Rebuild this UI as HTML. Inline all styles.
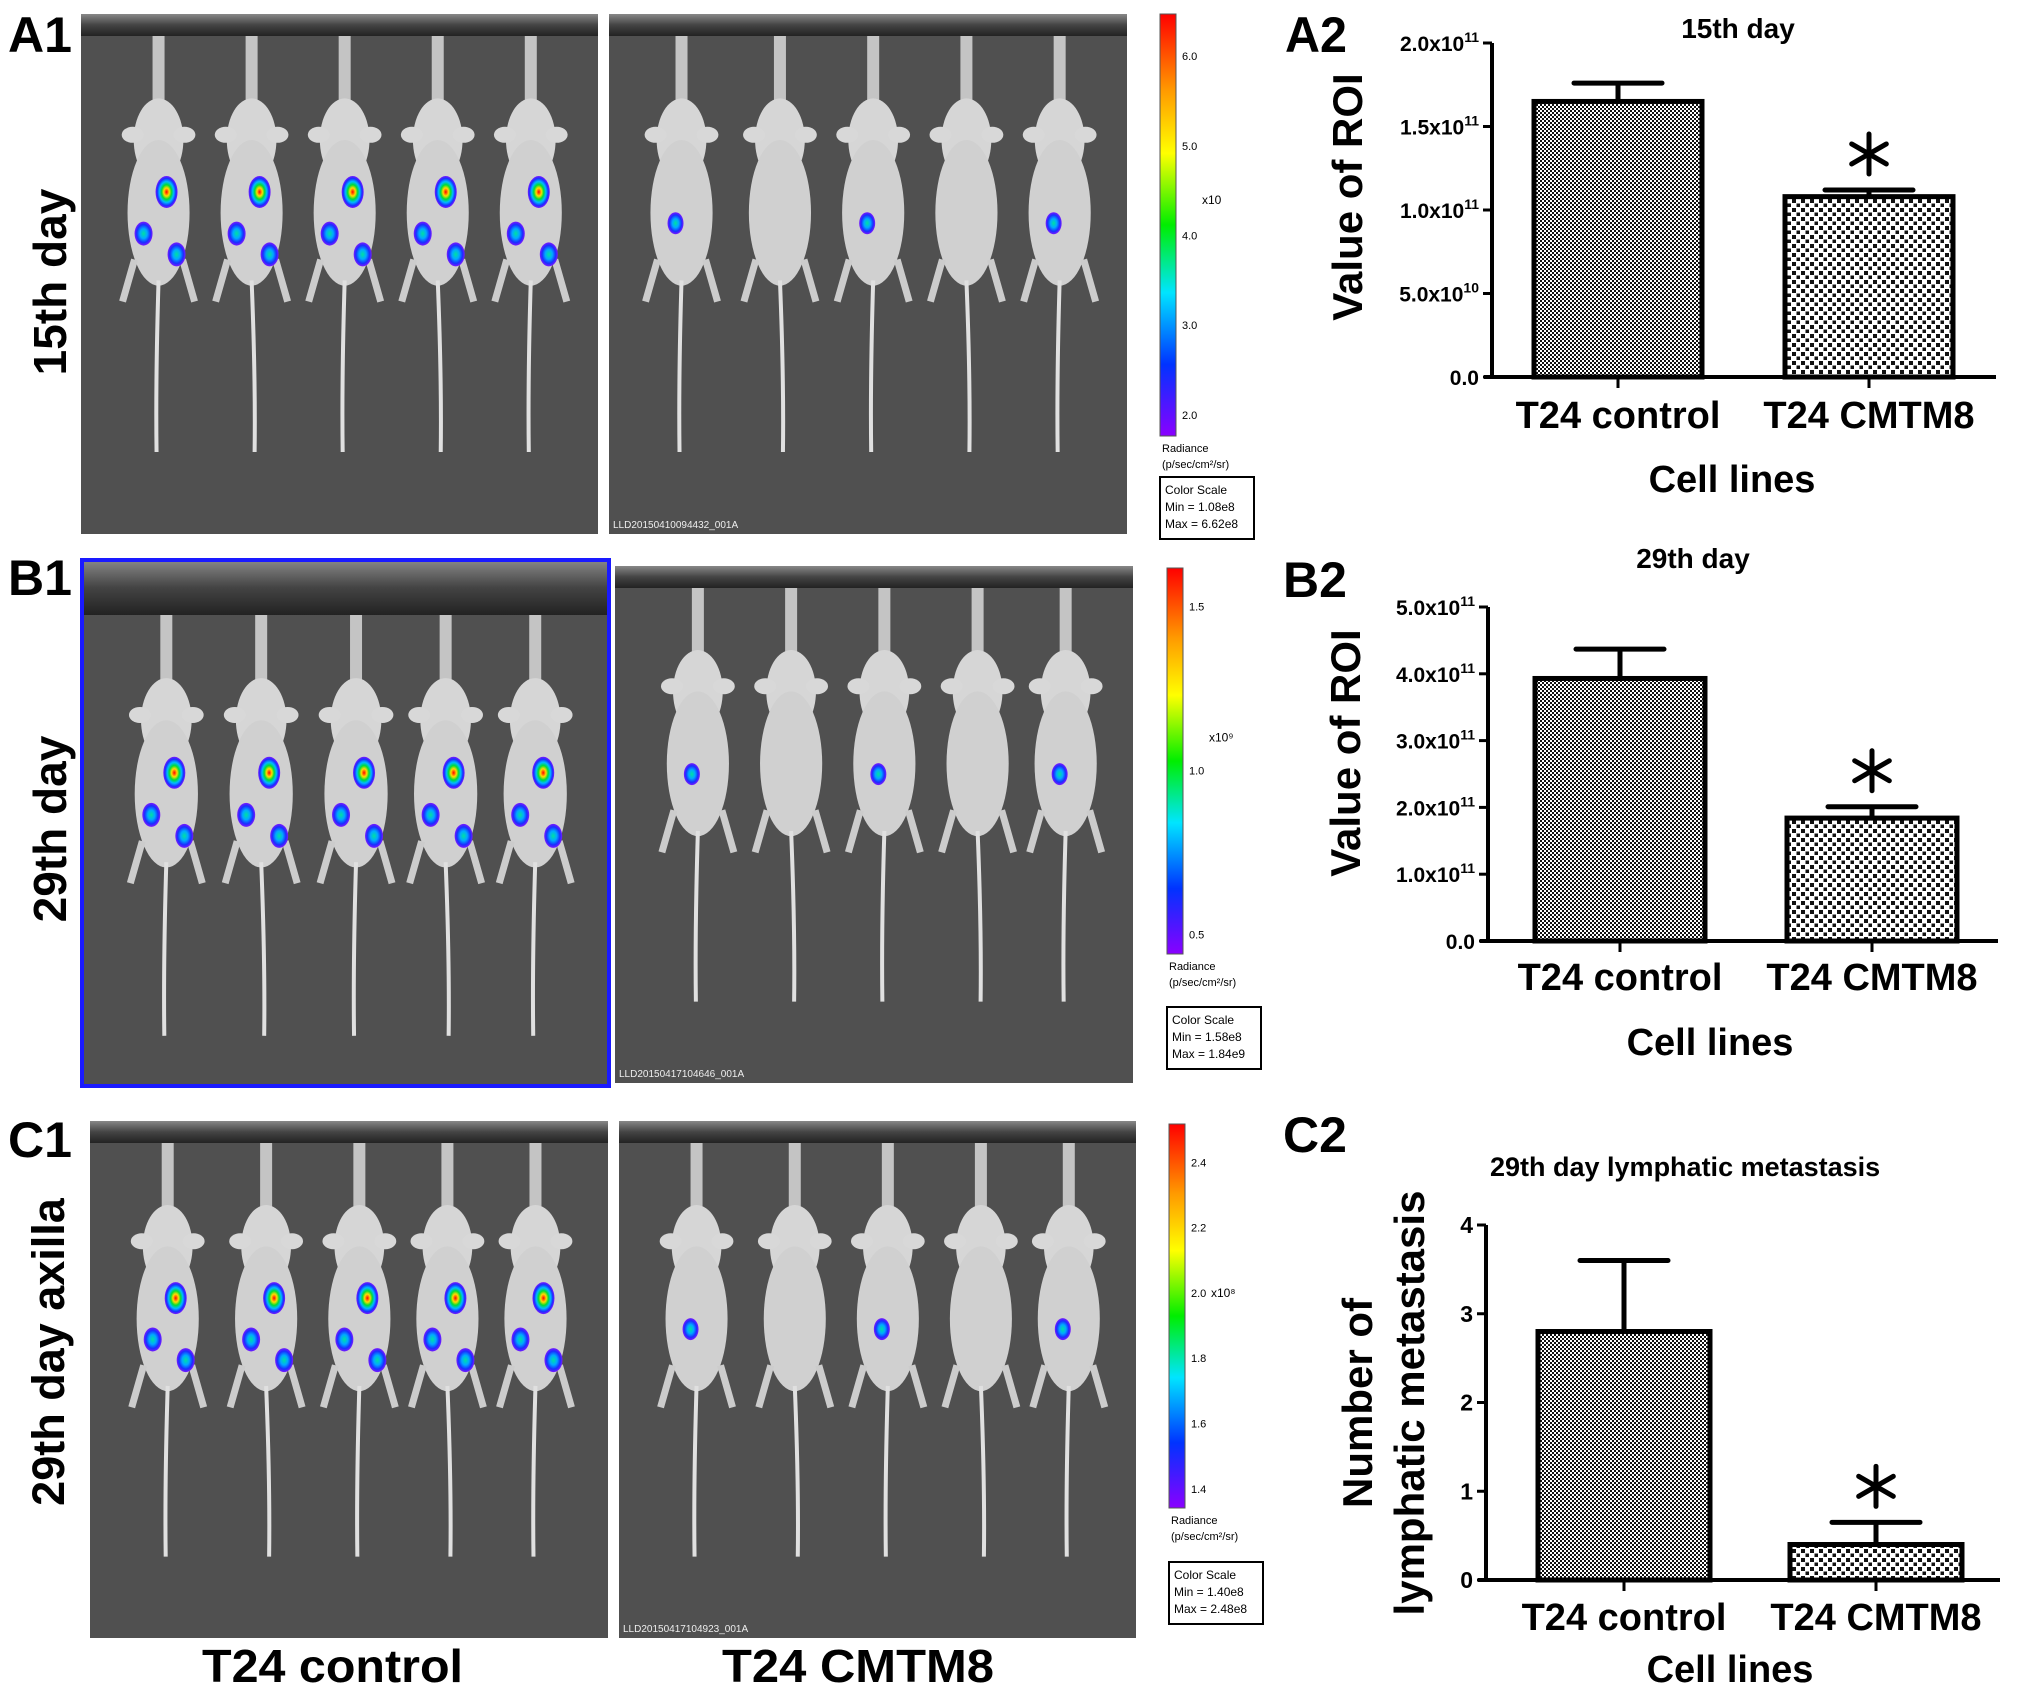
<!DOCTYPE html>
<html><head><meta charset="utf-8">
<style>
html,body{margin:0;padding:0;background:#fff;}
svg{display:block;font-family:"Liberation Sans",Arial,sans-serif;}
</style></head>
<body>
<svg id="fig" width="2031" height="1698" viewBox="0 0 2031 1698" xmlns="http://www.w3.org/2000/svg">
<defs>
  <pattern id="patFine" width="4" height="4" patternUnits="userSpaceOnUse">
    <rect width="4" height="4" fill="#fff"/><rect width="2" height="2" fill="#111"/><rect x="2" y="2" width="2" height="2" fill="#111"/>
  </pattern>
  <pattern id="patCoarse" width="9" height="9" patternUnits="userSpaceOnUse">
    <rect width="9" height="9" fill="#fff"/><rect x="1" y="1" width="4" height="4" fill="#111"/><rect x="5.5" y="5.5" width="3.5" height="3.5" fill="#111"/>
  </pattern>
  <linearGradient id="cbar" x1="0" y1="0" x2="0" y2="1">
    <stop offset="0" stop-color="#ff0000"/><stop offset="0.18" stop-color="#ff9900"/><stop offset="0.33" stop-color="#ffff00"/>
    <stop offset="0.5" stop-color="#00ee00"/><stop offset="0.66" stop-color="#00e5ff"/><stop offset="0.83" stop-color="#0033ff"/><stop offset="1" stop-color="#8a00ff"/>
  </linearGradient>
  <radialGradient id="blob">
    <stop offset="0" stop-color="#ff0000"/><stop offset="0.25" stop-color="#ffdd00"/><stop offset="0.45" stop-color="#00dd33"/>
    <stop offset="0.65" stop-color="#00bbff"/><stop offset="0.85" stop-color="#1a2dff"/><stop offset="1" stop-color="#7a1aff"/>
  </radialGradient>
  <radialGradient id="blobBlue">
    <stop offset="0" stop-color="#00e0a0"/><stop offset="0.4" stop-color="#00aaff"/><stop offset="0.75" stop-color="#1a2dff"/><stop offset="1" stop-color="#7a1aff"/>
  </radialGradient>
  <linearGradient id="topbar" x1="0" y1="0" x2="0" y2="1">
    <stop offset="0" stop-color="#888"/><stop offset="0.5" stop-color="#444"/><stop offset="1" stop-color="#222"/>
  </linearGradient>
</defs>

<text x="8" y="52" font-size="50" font-weight="bold" textLength="64" lengthAdjust="spacingAndGlyphs">A1</text>
<text x="8" y="595" font-size="50" font-weight="bold" textLength="64" lengthAdjust="spacingAndGlyphs">B1</text>
<text x="8" y="1157" font-size="50" font-weight="bold" textLength="64" lengthAdjust="spacingAndGlyphs">C1</text>
<text x="1285" y="52" font-size="50" font-weight="bold" textLength="62" lengthAdjust="spacingAndGlyphs">A2</text>
<text x="1283" y="597" font-size="50" font-weight="bold">B2</text>
<text x="1283" y="1152" font-size="50" font-weight="bold">C2</text>

<text transform="translate(66,282) rotate(-90)" text-anchor="middle" font-size="46" font-weight="bold">15th day</text>
<text transform="translate(66,829) rotate(-90)" text-anchor="middle" font-size="46" font-weight="bold">29th day</text>
<text transform="translate(64,1352) rotate(-90)" text-anchor="middle" font-size="45" font-weight="bold">29th day axilla</text>

<text x="202" y="1682" font-size="46" font-weight="bold" textLength="261" lengthAdjust="spacingAndGlyphs">T24 control</text>
<text x="722" y="1682" font-size="46" font-weight="bold" textLength="272" lengthAdjust="spacingAndGlyphs">T24 CMTM8</text>

<g id="imaging"></g>
<g id="charts"></g>
</svg>

<script>
const categories = ["T24 control", "T24 CMTM8"];
const a2Values = [1.65e11, 1.08e11];
const a2Errors = [0.11e11, 0.04e11];
const a2Ticks = [0, 0.5e11, 1.0e11, 1.5e11, 2.0e11];
const a2TickLabels = ["0.0", "5.0x10|10", "1.0x10|11", "1.5x10|11", "2.0x10|11"];
const b2Values = [3.93e11, 1.84e11];
const b2Errors = [0.44e11, 0.17e11];
const b2Ticks = [0, 1e11, 2e11, 3e11, 4e11, 5e11];
const b2TickLabels = ["0.0", "1.0x10|11", "2.0x10|11", "3.0x10|11", "4.0x10|11", "5.0x10|11"];
const c2Values = [2.8, 0.4];
const c2Errors = [0.8, 0.25];
const c2Ticks = [0, 1, 2, 3, 4];
const c2TickLabels = ["0", "1", "2", "3", "4"];
const significant = [false, true];

const NS = "http://www.w3.org/2000/svg";
function mk(tag, attrs, parent) {
  const e = document.createElementNS(NS, tag);
  for (const k in attrs) e.setAttribute(k, attrs[k]);
  if (parent) parent.appendChild(e);
  return e;
}

function drawChart(cfg, values, errors, ticks, tickLabels) {
  const root = document.getElementById("charts");
  const g = mk("g", {}, root);
  
  
  const ymax = ticks[ticks.length - 1];
  const yScale = v => cfg.y0 - (v / ymax) * (cfg.y0 - cfg.yTop);
  const xCenter = i => cfg.xc[0] + i * (cfg.xc[1] - cfg.xc[0]);

  values.forEach((v, i) => {
    const cx = xCenter(i);
    const yv = yScale(v);
    const bar = mk("rect", {x: cx - cfg.bw / 2, y: yv, width: cfg.bw, height: cfg.y0 - yv,
      fill: i === 0 ? "url(#patFine)" : "url(#patCoarse)", stroke: "#000", "stroke-width": 5}, g);
    
    
    const ye = yScale(v + errors[i]);
    const eb = mk("path", {d: `M${cx},${yv} V${ye} M${cx - cfg.cap},${ye} H${cx + cfg.cap}`,
      stroke: "#000", "stroke-width": 5, fill: "none", "stroke-linecap": "round"}, g);
    
    
    if (significant[i]) {
      const ay = ye - 36;
      const st = mk("g", {}, g);
      
      
      [0, 60, 120].forEach(a => {
        mk("line", {x1: cx, y1: ay - 20, x2: cx, y2: ay + 20, stroke: "#000", "stroke-width": 5,
          "stroke-linecap": "round", transform: `rotate(${a} ${cx} ${ay})`}, st);
      });
    }
    const ct = mk("line", {x1: cx, y1: cfg.y0, x2: cx, y2: cfg.y0 + 11, stroke: "#000", "stroke-width": 3}, g);
    
    
    const cl = mk("text", {x: cx, y: cfg.catY, "text-anchor": "middle", "font-size": 38, "font-weight": "bold"}, g);
    cl.textContent = categories[i];
    
    
  });

  const ax = mk("path", {d: `M${cfg.x0},${cfg.yTop} V${cfg.y0} M${cfg.x0 - 8},${cfg.y0} H${cfg.xEnd}`,
    stroke: "#000", "stroke-width": 4, fill: "none"}, g);
  
  

  ticks.forEach((t, k) => {
    const y = yScale(t);
    const tk = mk("line", {x1: cfg.x0 - 9, y1: y, x2: cfg.x0, y2: y, stroke: "#000", "stroke-width": 3}, g);
    
    
    const parts = tickLabels[k].split("|");
    const tl = mk("text", {x: cfg.x0 - 13, y: y + 8, "text-anchor": "end", "font-size": cfg.tickFont, "font-weight": "bold"}, g);
    
    
    const s1 = mk("tspan", {}, tl); s1.textContent = parts[0];
    if (parts[1]) {
      const s2 = mk("tspan", {dy: -9, "font-size": 14}, tl); s2.textContent = parts[1];
    }
  });
}

drawChart({name: "chart-a2", x0: 1492, xEnd: 1996, y0: 377, yTop: 43, xc: [1618, 1869], bw: 168, cap: 44, catY: 428, tickFont: 21},
  a2Values, a2Errors, a2Ticks, a2TickLabels);
drawChart({name: "chart-b2", x0: 1488, xEnd: 1998, y0: 941, yTop: 607, xc: [1620, 1872], bw: 170, cap: 44, catY: 990, tickFont: 21},
  b2Values, b2Errors, b2Ticks, b2TickLabels);
drawChart({name: "chart-c2", x0: 1486, xEnd: 2000, y0: 1580, yTop: 1225, xc: [1624, 1876], bw: 172, cap: 44, catY: 1630, tickFont: 23},
  c2Values, c2Errors, c2Ticks, c2TickLabels);

(function(){
  const root = document.getElementById("charts");
  const items = [
    ["chart-title-a2", 1738, 38, "15th day", 28, "middle"],
    ["chart-title-b2", 1693, 568, "29th day", 28, "middle"],
    ["chart-title-c2", 1490, 1176, "29th day lymphatic metastasis", 27, "start"],
    ["x-axis-title-a2", 1732, 492, "Cell lines", 38, "middle"],
    ["x-axis-title-b2", 1710, 1055, "Cell lines", 38, "middle"],
    ["x-axis-title-c2", 1730, 1682, "Cell lines", 38, "middle"]
  ];
  items.forEach(it => {
    const t = mk("text", {x: it[1], y: it[2], "text-anchor": it[5], "font-size": it[4], "font-weight": "bold"}, root);
    t.textContent = it[3];
    
    
  });
  const yt = [
    ["y-axis-title-a2", 1362, 197, "Value of ROI"],
    ["y-axis-title-b2", 1360, 753, "Value of ROI"],
    ["y-axis-title-c2-line1", 1372, 1403, "Number of"],
    ["y-axis-title-c2-line2", 1424, 1403, "lymphatic metastasis"]
  ];
  yt.forEach(it => {
    const t = mk("text", {transform: `translate(${it[1]},${it[2]}) rotate(-90)`, "text-anchor": "middle", "font-size": 42, "font-weight": "bold"}, root);
    t.textContent = it[3];
    
    
  });
})();

const panels = [
  {name:"a1-control", x:81, y:14, w:517, h:520, bar:22, mice:[0.15,0.33,0.51,0.69,0.87], blobs:true},
  {name:"a1-cmtm8", x:609, y:14, w:518, h:520, bar:22, mice:[0.14,0.33,0.51,0.69,0.87], blobs:false, id:"LLD20150410094432_001A"},
  {name:"b1-control", x:82, y:560, w:527, h:526, bar:55, mice:[0.16,0.34,0.52,0.69,0.86], blobs:true, border:true},
  {name:"b1-cmtm8", x:615, y:566, w:518, h:517, bar:22, mice:[0.16,0.34,0.52,0.7,0.87], blobs:false, id:"LLD20150417104646_001A"},
  {name:"c1-control", x:90, y:1121, w:518, h:517, bar:22, mice:[0.15,0.34,0.52,0.69,0.86], blobs:true},
  {name:"c1-cmtm8", x:619, y:1121, w:517, h:517, bar:22, mice:[0.15,0.34,0.52,0.7,0.87], blobs:false, id:"LLD20150417104923_001A"}
];
const img = document.getElementById("imaging");
panels.forEach((p) => {
  const g = mk("g", {}, img);
  
  
  mk("rect", {x: p.x, y: p.y, width: p.w, height: p.h, fill: "#505050"}, g);
  mk("rect", {x: p.x, y: p.y, width: p.w, height: p.bar, fill: "url(#topbar)"}, g);
  p.mice.forEach((f, mi) => {
    const cx = p.x + f * p.w;
    const top = p.y + p.bar;
    const H = p.h;
    mk("rect", {x: cx - 6, y: top, width: 12, height: H * 0.13, fill: "#c4c4c4"}, g);
    mk("ellipse", {cx: cx, cy: top + H * 0.2, rx: p.w * 0.048, ry: H * 0.08, fill: "#d6d6d6"}, g);
    mk("ellipse", {cx: cx, cy: top + H * 0.34, rx: p.w * 0.06, ry: H * 0.14, fill: "#d0d0d0"}, g);
    mk("ellipse", {cx: cx - p.w * 0.05, cy: top + H * 0.19, rx: 11, ry: 8, fill: "#d8d8d8"}, g);
    mk("ellipse", {cx: cx + p.w * 0.05, cy: top + H * 0.19, rx: 11, ry: 8, fill: "#d8d8d8"}, g);
    mk("path", {d: `M${cx - 24},${top + H * 0.43} l-12,42 M${cx + 24},${top + H * 0.43} l12,42`, stroke: "#ccc", "stroke-width": 7, fill: "none"}, g);
    mk("path", {d: `M${cx},${top + H * 0.47} Q${cx + (mi % 2 ? 4 : -3)},${top + H * 0.66} ${cx + (mi % 2 ? 3 : -2)},${top + H * 0.8}`, stroke: "#e0e0e0", "stroke-width": 4, fill: "none"}, g);
    if (p.blobs) {
      mk("ellipse", {cx: cx + 8, cy: top + H * 0.3, rx: 11, ry: 16, fill: "url(#blob)"}, g);
      mk("ellipse", {cx: cx - 15, cy: top + H * 0.38, rx: 9, ry: 12, fill: "url(#blobBlue)"}, g);
      mk("ellipse", {cx: cx + 18, cy: top + H * 0.42, rx: 9, ry: 12, fill: "url(#blobBlue)"}, g);
    } else if (mi % 2 === 0) {
      mk("ellipse", {cx: cx - 6, cy: top + H * 0.36, rx: 8, ry: 11, fill: "url(#blobBlue)"}, g);
    }
  });
  if (p.border) mk("rect", {x: p.x, y: p.y, width: p.w, height: p.h, fill: "none", stroke: "#1a1aff", "stroke-width": 4}, g);
  if (p.id) {
    const t = mk("text", {x: p.x + 4, y: p.y + p.h - 6, "font-size": 10, fill: "#eee"}, g);
    t.textContent = p.id;
    
    
  }
});

const scales = [
  {name:"a1", x:1160, y:14, h:422, ticks:["6.0","5.0","4.0","3.0","2.0"], mult:"x10", boxY:477, min:"1.08e8", max:"6.62e8"},
  {name:"b1", x:1167, y:568, h:386, ticks:["1.5","1.0","0.5"], mult:"x10⁹", boxY:1007, min:"1.58e8", max:"1.84e9"},
  {name:"c1", x:1169, y:1124, h:384, ticks:["2.4","2.2","2.0","1.8","1.6","1.4"], mult:"x10⁸", boxY:1562, min:"1.40e8", max:"2.48e8"}
];
scales.forEach(s => {
  const g = mk("g", {}, img);
  
  
  mk("rect", {x: s.x, y: s.y, width: 16, height: s.h, fill: "url(#cbar)", stroke: "#555", "stroke-width": 1}, g);
  s.ticks.forEach((tl, k) => {
    const y = s.y + s.h * (0.1 + 0.85 * k / Math.max(1, s.ticks.length - 1));
    const t = mk("text", {x: s.x + 22, y: y + 4, "font-size": 11}, g);
    t.textContent = tl;
  });
  const m = mk("text", {x: s.x + 42, y: s.y + s.h * 0.45, "font-size": 12}, g); m.textContent = s.mult;
  const r1 = mk("text", {x: s.x + 2, y: s.y + s.h + 16, "font-size": 11}, g); r1.textContent = "Radiance";
  const r2 = mk("text", {x: s.x + 2, y: s.y + s.h + 32, "font-size": 11}, g); r2.textContent = "(p/sec/cm²/sr)";
  mk("rect", {x: s.x, y: s.boxY, width: 94, height: 62, fill: "#fff", stroke: "#000", "stroke-width": 2}, g);
  ["Color Scale", "Min = " + s.min, "Max = " + s.max].forEach((l, k) => {
    const t = mk("text", {x: s.x + 5, y: s.boxY + 17 + k * 17, "font-size": 12}, g); t.textContent = l;
  });
});
</script>
</body></html>
